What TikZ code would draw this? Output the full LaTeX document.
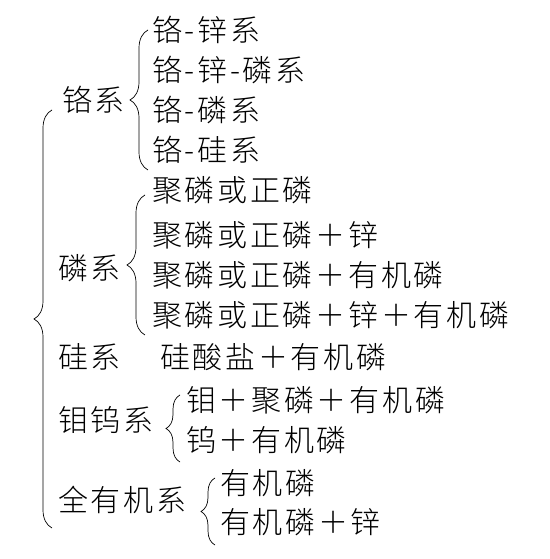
\documentclass[tikz,border=0pt]{standalone}
\usepackage{fontspec}
\setmainfont{Noto Sans CJK SC}[UprightFont={* Light}, LetterSpace=9]
\usetikzlibrary{decorations.pathreplacing}

\begin{document}
\begin{tikzpicture}[x=1pt, y=1pt,
  every node/.style={anchor=west, inner sep=0pt, font=\fontsize{30}{36}\selectfont},
  brc/.style={decorate, decoration={brace, amplitude=#1}, line width=0.7pt}]
\useasboundingbox (0,0) rectangle (549,559);
\path (62,459) node (cr) {铬系}
		(152,529) node (cr1) {铬-锌系}
		(152,489) node (cr2) {铬-锌-磷系}
		(152,449) node (cr3) {铬-磷系}
		(152,409) node (cr4) {铬-硅系}
		(58,291) node (p) {磷系}
		(152,369) node (p1) {聚磷或正磷}
		(152,324) node (p2) {聚磷或正磷＋锌}
		(152,284) node (p3) {聚磷或正磷＋有机磷}
		(152,244) node (p4) {聚磷或正磷＋锌＋有机磷}
		(58,202) node (si) {硅系}
		(160,202) node (si1) {硅酸盐＋有机磷}
		(58,139) node (mow) {钼钨系}
		(186,159) node (mow1) {钼＋聚磷＋有机磷}
		(186,119) node (mow2) {钨＋有机磷}
		(58,59) node (org) {全有机系}
		(220,76) node (org1) {有机磷}
		(220,37) node (org2) {有机磷＋锌}
		;
\draw [brc=18pt] ([shift={(-6,-28)}]org.west) -- ([shift={(-10,-10)}]cr.west);
\draw [brc=18pt] ([shift={(-4,-20)}]cr4.west) -- ([shift={(-4,0)}]cr1.west);
\draw [brc=18pt] ([shift={(-7,-20)}]p4.west) -- ([shift={(-7,-5)}]p1.west);
\draw [brc=14pt] ([shift={(-6,-22)}]mow2.west) -- ([shift={(-6,5)}]mow1.west);
\draw [brc=14pt] ([shift={(-5,-23)}]org2.west) -- ([shift={(-5,5)}]org1.west);
\end{tikzpicture}
\end{document}
